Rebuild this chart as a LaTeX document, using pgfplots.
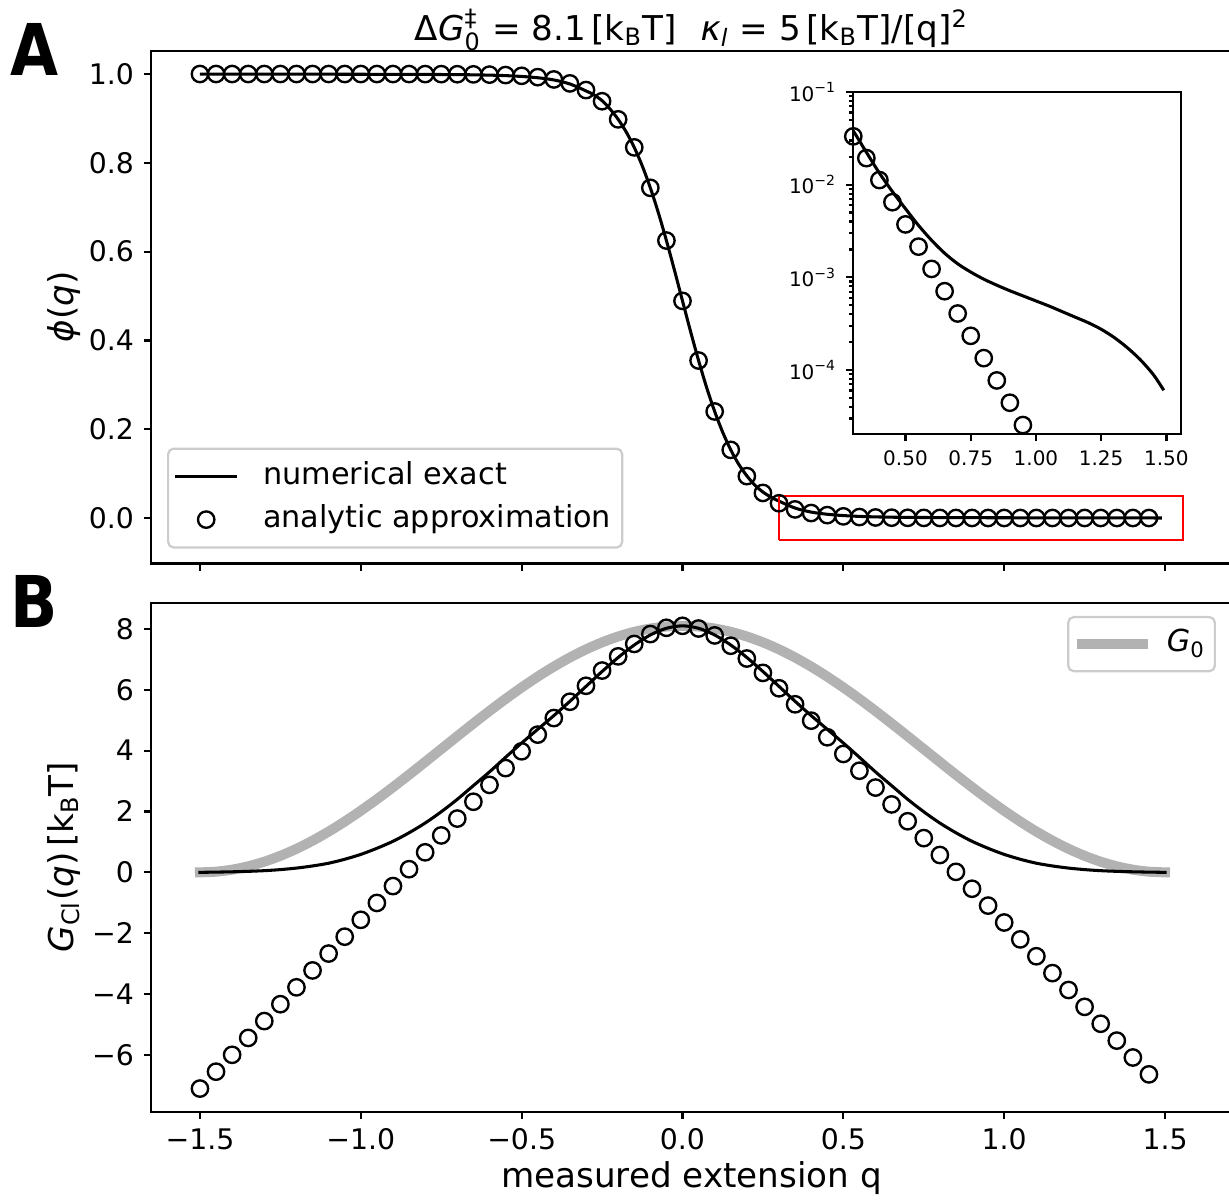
\documentclass[border=0pt]{standalone}
\usepackage{fontspec}
\setmainfont{DejaVu Sans}
\usepackage{graphicx}
\usepackage{pgfplots}
\pgfplotsset{compat=1.18}
\usepackage{pgfplotstable}
\newlength\px \setlength\px{0.36pt}
\definecolor{gzero}{RGB}{178,178,178}
\definecolor{legedge}{RGB}{204,204,204}
\newcommand\tickfont{\fontsize{10.2}{12}\selectfont}
\newcommand\labfont{\fontsize{12.3}{14}\selectfont}
\newcommand\legfont{\fontsize{10.9}{13}\selectfont}
\newcommand\insetfont{\fontsize{7.2}{8.5}\selectfont}
\newcommand\titlefont{\fontsize{12.3}{14}\selectfont}

% analytic approximation (circles): q, phi, G_CI
\pgfplotstableread{
q phi G
-1.50 1.00000 -7.105
-1.45 1.00000 -6.550
-1.40 1.00000 -5.996
-1.35 1.00000 -5.441
-1.30 1.00000 -4.887
-1.25 1.00000 -4.332
-1.20 1.00000 -3.778
-1.15 1.00000 -3.223
-1.10 0.99999 -2.669
-1.05 0.99999 -2.114
-1.00 0.99998 -1.560
-0.95 0.99997 -1.005
-0.90 0.99995 -0.451
-0.85 0.99992 0.104
-0.80 0.99985 0.658
-0.75 0.99974 1.213
-0.70 0.99956 1.767
-0.65 0.99923 2.320
-0.60 0.99866 2.874
-0.55 0.99766 3.426
-0.50 0.99594 3.977
-0.45 0.99294 4.526
-0.40 0.98777 5.070
-0.35 0.97890 5.606
-0.30 0.96385 6.130
-0.25 0.93869 6.631
-0.20 0.89788 7.097
-0.15 0.83475 7.505
-0.10 0.74364 7.829
-0.05 0.62492 8.036
0.00 0.48900 8.100
0.05 0.35468 8.012
0.10 0.23994 7.785
0.15 0.15349 7.446
0.20 0.09432 7.026
0.25 0.05644 6.554
0.30 0.03321 6.048
0.35 0.01935 5.522
0.40 0.01121 4.984
0.45 0.006468 4.439
0.50 0.003724 3.890
0.55 0.002143 3.339
0.60 0.001232 2.786
0.65 0.0007079 2.232
0.70 0.0004067 1.679
0.75 0.0002336 1.125
0.80 0.0001342 0.570
0.85 0.00007709 0.016
0.90 0.00004428 -0.539
0.95 0.00002543 -1.093
1.00 0.00001461 -1.648
1.05 0.00000839 -2.202
1.10 0.00000482 -2.757
1.15 0.00000277 -3.311
1.20 0.00000159 -3.866
1.25 0.000000913 -4.420
1.30 0.000000524 -4.975
1.35 0.000000301 -5.529
1.40 0.000000173 -6.084
1.45 0.0000000994 -6.638
}\approxtab

% numerical exact phi(q)
\pgfplotstableread{
q phi
-1.50 0.99994
-1.45 0.99991
-1.40 0.99987
-1.35 0.99983
-1.30 0.99978
-1.25 0.99973
-1.20 0.99968
-1.15 0.99963
-1.10 0.99957
-1.05 0.99951
-1.00 0.99944
-0.95 0.99937
-0.90 0.99928
-0.85 0.99918
-0.80 0.99905
-0.75 0.99886
-0.70 0.99860
-0.65 0.99818
-0.60 0.99749
-0.55 0.99637
-0.50 0.99450
-0.45 0.99159
-0.40 0.98666
-0.35 0.97760
-0.30 0.96200
-0.275 0.95300
-0.25 0.94000
-0.225 0.92100
-0.20 0.89790
-0.175 0.86950
-0.15 0.83475
-0.125 0.79290
-0.10 0.74364
-0.075 0.68735
-0.05 0.62492
-0.025 0.55806
0.00 0.48900
0.025 0.42037
0.05 0.35468
0.075 0.29406
0.10 0.23994
0.125 0.19306
0.15 0.15349
0.175 0.12081
0.20 0.09500
0.225 0.07400
0.25 0.05850
0.275 0.04700
0.30 0.03800
0.35 0.02240
0.40 0.01334
0.45 0.00841
0.50 0.00550
0.55 0.00363
0.60 0.00251
0.65 0.00182
0.70 0.00140
0.75 0.00114
0.80 0.000955
0.85 0.000822
0.90 0.000716
0.95 0.000631
1.00 0.000556
1.05 0.000490
1.10 0.000427
1.15 0.000372
1.20 0.000324
1.25 0.000275
1.30 0.000224
1.35 0.000174
1.40 0.000129
1.45 0.0000891
1.49 0.0000603
}\exactphi

% numerical exact G_CI(q)
\pgfplotstableread{
q G
-1.50 0.000
-1.45 0.008
-1.40 0.018
-1.35 0.033
-1.30 0.055
-1.25 0.090
-1.20 0.140
-1.15 0.210
-1.10 0.300
-1.05 0.430
-1.00 0.590
-0.95 0.790
-0.90 1.020
-0.85 1.300
-0.80 1.620
-0.75 1.990
-0.70 2.400
-0.65 2.850
-0.60 3.300
-0.55 3.780
-0.50 4.250
-0.45 4.700
-0.40 5.150
-0.35 5.620
-0.30 6.110
-0.25 6.600
-0.20 7.060
-0.15 7.470
-0.10 7.800
-0.05 8.020
0.00 8.100
0.05 8.020
0.10 7.800
0.15 7.470
0.20 7.060
0.25 6.600
0.30 6.110
0.35 5.620
0.40 5.150
0.45 4.700
0.50 4.250
0.55 3.780
0.60 3.300
0.65 2.850
0.70 2.400
0.75 1.990
0.80 1.620
0.85 1.300
0.90 1.020
0.95 0.790
1.00 0.590
1.05 0.430
1.10 0.300
1.15 0.210
1.20 0.140
1.25 0.090
1.30 0.055
1.35 0.033
1.40 0.018
1.45 0.008
1.50 0.000
}\exactG

% G_0(q)
\pgfplotstableread{
q G
-1.50 0.0000
-1.45 0.0222
-1.40 0.0885
-1.35 0.1982
-1.30 0.3501
-1.25 0.5426
-1.20 0.7735
-1.15 1.0403
-1.10 1.3400
-1.05 1.6694
-1.00 2.0250
-0.95 2.4027
-0.90 2.7985
-0.85 3.2080
-0.80 3.6267
-0.75 4.0500
-0.70 4.4733
-0.65 4.8920
-0.60 5.3015
-0.55 5.6973
-0.50 6.0750
-0.45 6.4306
-0.40 6.7600
-0.35 7.0597
-0.30 7.3265
-0.25 7.5574
-0.20 7.7499
-0.15 7.9018
-0.10 8.0115
-0.05 8.0778
0.00 8.1000
0.05 8.0778
0.10 8.0115
0.15 7.9018
0.20 7.7499
0.25 7.5574
0.30 7.3265
0.35 7.0597
0.40 6.7600
0.45 6.4306
0.50 6.0750
0.55 5.6973
0.60 5.3015
0.65 4.8920
0.70 4.4733
0.75 4.0500
0.80 3.6267
0.85 3.2080
0.90 2.7985
0.95 2.4027
1.00 2.0250
1.05 1.6694
1.10 1.3400
1.15 1.0403
1.20 0.7735
1.25 0.5426
1.30 0.3501
1.35 0.1982
1.40 0.0885
1.45 0.0222
1.50 0.0000
}\gzerotab

\pgfplotsset{
  mainax/.style={
    scale only axis,
    width=1081.4\px,
    xmin=-1.6528, xmax=1.7088,
    axis line style={line width=0.8pt},
    every tick/.style={line width=0.8pt, black},
    major tick length=7\px,
    tick align=outside,
    tick pos=left,
    ticklabel style={font=\tickfont},
    xtick={-1.5,-1,-0.5,0,0.5,1,1.5},
    legend cell align=left,
  },
  circ/.style={only marks, mark=o, mark size=2.95pt, mark options={line width=0.85pt, black}},
  lineleg/.style={legend image code/.code={\draw[##1] (0pt,0pt) -- (22.3pt,0pt);}},
  circleg/.style={legend image code/.code={\draw[mark repeat=2, mark phase=2, ##1] plot coordinates {(0pt,0pt) (11.15pt,0pt) (22.3pt,0pt)};}},
  grayleg/.style={legend image code/.code={\draw[##1, line cap=butt] (0pt,0pt) -- (25.6pt,0pt);}},
}

\begin{document}
\begin{tikzpicture}
\path[use as bounding box] (0,0) rectangle (1229\px,-1200\px);

% ---------------- Panel A ----------------
\begin{axis}[mainax,
  at={(150.8\px,-50.7\px)}, anchor=north west,
  height=512.8\px,
  ymin=-0.1025, ymax=1.0525,
  xticklabels={,,,,,,},
  ytick={0,0.2,0.4,0.6,0.8,1.0},
  yticklabels={0.0,0.2,0.4,0.6,0.8,1.0},
  legend style={at={(axis description cs:0.015,0.029)}, anchor=south west,
    draw=legedge, line width=0.8pt, rounded corners=2pt, fill=white,
    font=\legfont, inner xsep=2pt, inner ysep=2.8pt,
    nodes={inner xsep=2pt, inner ysep=2pt, text height=8pt, text depth=2.5pt},
    row sep=1.0pt, column sep=6.8pt},
]
\addplot[black, line width=1.1pt, smooth, lineleg]
  table[x=q, y=phi] {\exactphi};
\addlegendentry{numerical exact}
\addplot[circ, circleg]
  table[x=q, y=phi] {\approxtab};
\addlegendentry{analytic approximation}
\addplot[red, line width=0.75pt, forget plot] coordinates
  {(0.3,-0.05) (1.556,-0.05) (1.556,0.05) (0.3,0.05) (0.3,-0.05)};
\end{axis}

% ---------------- Inset ----------------
\begin{axis}[
  at={(853.3\px,-92\px)}, anchor=north west,
  scale only axis, width=327.7\px, height=342.3\px,
  xmin=0.3, xmax=1.556,
  ymode=log, ymin=2.02e-5, ymax=0.1,
  axis background/.style={fill=white},
  axis line style={line width=0.8pt},
  every tick/.style={line width=0.8pt, black},
  major tick length=7\px, minor tick length=4\px,
  tick align=outside, tick pos=left,
  ticklabel style={font=\insetfont},
  xtick={0.5,0.75,1,1.25,1.5},
  xticklabels={0.50,0.75,1.00,1.25,1.50},
  ytick={1e-4,1e-3,1e-2,1e-1},
  yticklabels={10\textsuperscript{−4},10\textsuperscript{−3},10\textsuperscript{−2},10\textsuperscript{−1}},
  minor ytick={3e-5,4e-5,5e-5,6e-5,7e-5,8e-5,9e-5,
    2e-4,3e-4,4e-4,5e-4,6e-4,7e-4,8e-4,9e-4,
    2e-3,3e-3,4e-3,5e-3,6e-3,7e-3,8e-3,9e-3,
    2e-2,3e-2,4e-2,5e-2,6e-2,7e-2,8e-2,9e-2},
]
\addplot[black, line width=1.1pt, smooth] table[x=q, y=phi] {\exactphi};
\addplot[circ] table[x=q, y=phi] {\approxtab};
\end{axis}

% ---------------- Panel B ----------------
\begin{axis}[mainax,
  at={(150.8\px,-602.7\px)}, anchor=north west,
  height=509\px,
  ymin=-7.865, ymax=8.86,
  xticklabels={−1.5,−1.0,−0.5,0.0,0.5,1.0,1.5},
  ytick={-6,-4,-2,0,2,4,6,8},
  yticklabels={−6,−4,−2,0,2,4,6,8},
  legend style={at={(axis description cs:0.985,0.974)}, anchor=north east,
    draw=legedge, line width=0.8pt, rounded corners=2pt, fill=white,
    font=\legfont, inner xsep=1.5pt, inner ysep=2.5pt,
    nodes={inner xsep=2pt, inner ysep=2pt, text height=8pt, text depth=2.5pt},
    column sep=2.8pt},
]
\addplot[gzero, line width=3.6pt, line cap=rect, smooth, grayleg]
  table[x=q, y=G] {\gzerotab};
\addlegendentry{\textit{G}\textsubscript{0}}
\addplot[black, line width=1.1pt, line cap=rect, smooth, forget plot] table[x=q, y=G] {\exactG};
\addplot[circ, forget plot] table[x=q, y=G] {\approxtab};
\end{axis}

% ---------------- Texts ----------------
\node[anchor=base, font=\titlefont] at (691.5\px,-40\px)
  {Δ\textit{G}$^{\mbox{\fontsize{8.6}{9}\selectfont ‡}}_{\mbox{\fontsize{8.6}{9}\selectfont 0}}$ = 8.1\,[k\textsubscript{B}T]\hspace{0.7em}\textit{κ}\textsubscript{\textit{l}} = 5\,[k\textsubscript{B}T]/[q]\textsuperscript{2}};
\node[anchor=base west, font=\fontsize{25.7}{30}\selectfont\bfseries, inner sep=0pt] at (10\px,-75\px) {\scalebox{0.87}[1]{A}};
\node[anchor=base west, font=\fontsize{25.7}{30}\selectfont\bfseries, inner sep=0pt] at (10\px,-627\px) {\scalebox{0.87}[1]{B}};
\node[rotate=90, anchor=base, font=\labfont, inner sep=0pt] at (73\px,-307\px) {\textit{ϕ}(\textit{q})};
\node[rotate=90, anchor=base, font=\labfont, inner sep=0pt] at (73\px,-857\px) {\textit{G}\textsubscript{Cl}(\textit{q})\,[k\textsubscript{B}T]};
\node[anchor=base, font=\labfont, inner sep=0pt] at (691.5\px,-1187\px) {measured extension q};
\end{tikzpicture}
\end{document}
